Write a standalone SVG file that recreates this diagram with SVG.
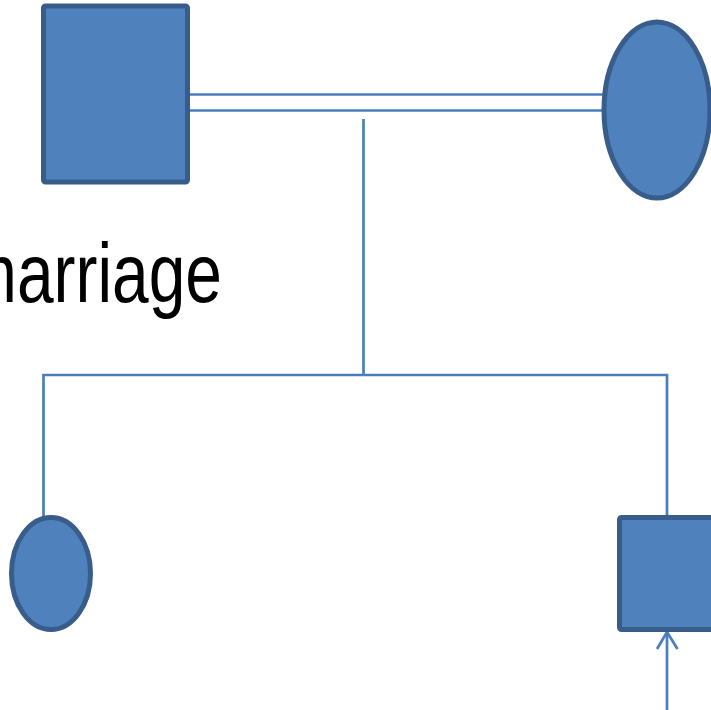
<svg xmlns="http://www.w3.org/2000/svg" width="711" height="710" viewBox="0 0 711 710">
<style>
.node{fill:#4f81bd;stroke:#385d8a;stroke-width:5}
.conn{stroke:#4a7ebb;stroke-width:2.7;fill:none}
.lbl{font-family:"Liberation Sans",Arial,sans-serif;font-size:83px;fill:#000}
</style>
<rect width="711" height="710" fill="#fff"/>
<g id="connectors">
<line class="conn" x1="186" y1="94.5" x2="604" y2="94.5"/>
<line class="conn" x1="186" y1="110.5" x2="604" y2="110.5"/>
<line class="conn" x1="363.5" y1="119" x2="363.5" y2="375"/>
<polyline class="conn" points="43.5,518 43.5,375 667,375 667,518"/>
<line class="conn" x1="667" y1="632" x2="667" y2="710"/>
<polyline class="conn" points="657,649 667,632 677.5,649"/>
</g>
<g id="father"><rect class="node" x="43.5" y="6" width="144" height="176" rx="2"/></g>
<g id="mother"><ellipse class="node" cx="657" cy="110" rx="53" ry="88"/></g>
<g id="daughter"><ellipse class="node" cx="51" cy="573.5" rx="39.5" ry="56"/></g>
<g id="son"><rect class="node" x="619.5" y="517.5" width="120" height="112" rx="2"/></g>
<text class="lbl" x="-38" y="302" textLength="260" lengthAdjust="spacingAndGlyphs">marriage</text>
</svg>
